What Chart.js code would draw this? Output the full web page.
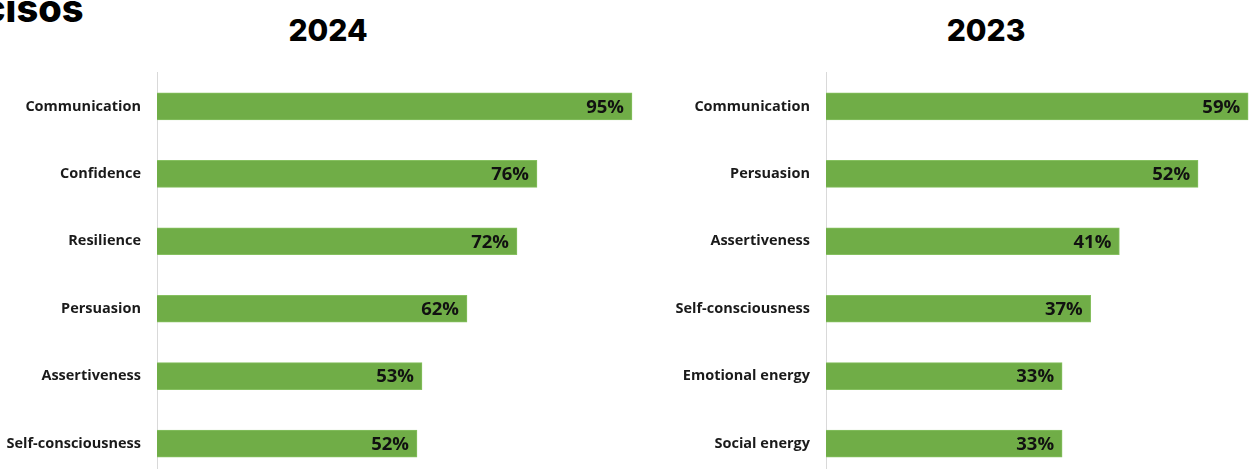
<!DOCTYPE html>
<html>
<head>
<meta charset="utf-8">
<script src="https://cdn.jsdelivr.net/npm/chart.js@4"></script>
<style>
  html, body { margin: 0; padding: 0; background: #fff; overflow: hidden; width: 1251px; height: 469px; }
  .heading { position: absolute; font-family: Inter, sans-serif; font-weight: 800; color: #000; white-space: nowrap; }
  .year { font-size: 30px; width: 200px; text-align: center; top: 12px; }
  canvas { position: absolute; top: 56px; }
</style>
</head>
<body>
<div class="heading" style="left:-17px; top:-15px; font-size:38px;">cisos</div>
<div class="heading year" style="left:228px;">2024</div>
<div class="heading year" style="left:886px;">2023</div>
<canvas id="chart2024" width="657" height="438" style="left:0;"></canvas>
<canvas id="chart2023" width="591" height="438" style="left:660px;"></canvas>
<script>
const skills2024 = ['Communication', 'Confidence', 'Resilience', 'Persuasion', 'Assertiveness', 'Self-consciousness'];
const values2024 = [95, 76, 72, 62, 53, 52];

const skills2023 = ['Communication', 'Persuasion', 'Assertiveness', 'Self-consciousness', 'Emotional energy', 'Social energy'];
const values2023 = [59, 52, 41, 37, 33, 33];

const barGreen = '#70ad47';

// writes the percentage just inside the end of each bar
const barValueLabels = {
    id: 'barValueLabels',
    afterDatasetsDraw(chart) {
        const ctx = chart.ctx;
        ctx.save();
        ctx.font = 'bold 18.5px "Open Sans", sans-serif';
        ctx.fillStyle = '#111';
        ctx.textAlign = 'right';
        ctx.textBaseline = 'middle';
        chart.getDatasetMeta(0).data.forEach((bar, i) => {
            ctx.fillText(chart.data.datasets[0].data[i] + '%', bar.x - 8, bar.y + 1);
        });
        ctx.restore();
    }
};

function makeChart(id, labels, values, axisWidth, xMax) {
    return new Chart(document.getElementById(id), {
        type: 'bar',
        data: {
            labels: labels,
            datasets: [{
                data: values,
                backgroundColor: barGreen,
                borderColor: '#86c060',
                borderWidth: 1,
                borderSkipped: 'start',
                barThickness: 27
            }]
        },
        options: {
            indexAxis: 'y',
            responsive: false,
            animation: false,
            layout: { padding: 0 },
            plugins: {
                legend: { display: false },
                tooltip: { enabled: false }
            },
            scales: {
                x: {
                    display: false,
                    min: 0,
                    max: xMax
                },
                y: {
                    grid: { display: false },
                    border: { display: true, color: '#d9d9d9', width: 1 },
                    ticks: {
                        padding: 8,
                        color: '#1a1a1a',
                        font: { family: '"Open Sans", sans-serif', weight: 'bold', size: 14.5 }
                    },
                    afterFit(scale) {
                        scale.width = axisWidth;
                    }
                }
            }
        },
        plugins: [barValueLabels]
    });
}

makeChart('chart2024', skills2024, values2024, 157, 100);
makeChart('chart2023', skills2023, values2023, 166, 59.4);
</script>
</body>
</html>
